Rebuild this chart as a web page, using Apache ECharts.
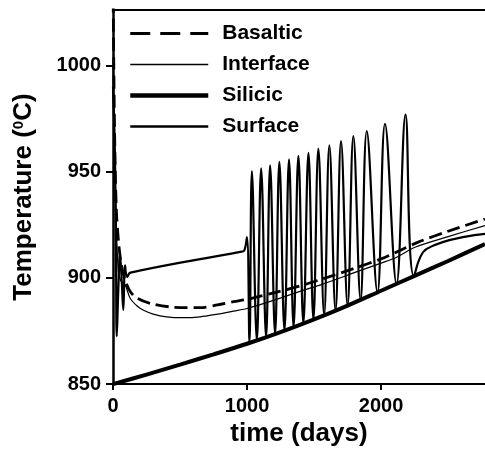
<!DOCTYPE html>
<html><head><meta charset="utf-8">
<script src="https://cdn.jsdelivr.net/npm/echarts@6/dist/echarts.min.js"></script>
<style>html,body{margin:0;padding:0;background:#fff}#c{width:485px;height:452px}</style>
</head><body><div id="c"></div>
<script>
const xTicks = [0, 1000, 2000];
const yTicks = [850, 900, 950, 1000];
const seriesNames = ['Basaltic', 'Interface', 'Silicic', 'Surface'];

const basaltic = [[0,1040],[6,1000],[14,960],[25,932],[40,918],[60,907],[90,899],[130,893.5],[180,890.5],[280,888],[420,886.4],[550,886],[650,886],[780,887.3],[900,888.8],[1020,890.2],[1200,893],[1400,896.3],[1570,899.7],[1800,904.5],[2000,909],[2116,912.2],[2277,916.9],[2500,922],[2775,927.8]];
const interfaceT = [[0,1000],[12,960],[25,925],[40,903],[60,898.5],[92,896.5],[129,890.3],[180,886.8],[228,884.8],[300,883],[400,881.7],[520,881.3],[650,881.7],[780,883],[900,884.4],[1000,885.6],[1200,889.5],[1400,893.8],[1560,897],[1800,902.5],[2000,907],[2116,909.8],[2253,914.5],[2500,919.5],[2775,924.7]];
const silicic = [[0,850],[250,854.5],[500,859.2],[750,864],[1000,869],[1250,874.5],[1500,880.5],[1750,887],[2000,894],[2250,901],[2500,908],[2775,916]];
const surface = [[0,990],[14,960],[22,915],[28,872.5],[40,895],[52,911],[64,900],[77,885],[90,906],[105,900.5],[130,902.5],[949,912.3],[978,912.8],[999,919.2],[1018,869.4],[1036,950.4],[1073,870.6],[1105,951.7],[1142,872.1],[1172,953.1],[1209,873.6],[1241,954.7],[1279,875.2],[1313,955.9],[1347,876.8],[1383,957.5],[1420,878.6],[1458,959.0],[1495,880.4],[1532,960.9],[1575,882.5],[1614,962.5],[1660,884.7],[1701,964.5],[1750,887.0],[1793,966.8],[1847,889.7],[1893,969.2],[1973,893.2],[2029,972.6],[2115,897.2],[2182,977.0],[2245,900.8],[2340,913.7],[2775,920.8]];

const FONT = "'Liberation Sans', Arial, Helvetica, sans-serif";
const chart = echarts.init(document.getElementById('c'), null, {renderer: 'canvas'});
const axisLabelBase = {color: '#000', fontFamily: FONT, fontWeight: 'bold', fontSize: 20};
chart.setOption({
  animation: false,
  backgroundColor: '#fff',
  grid: {left: 113, right: 0, top: 10, bottom: 66, containLabel: false},
  legend: {
    orient: 'vertical', left: 128, top: 23, padding: 0,
    itemWidth: 78, itemHeight: 14, itemGap: 10,
    selectedMode: false,
    textStyle: {color: '#000', fontFamily: FONT, fontWeight: 'bold', fontSize: 21, padding: [0, 0, 0, 9]},
    data: [
      {name: seriesNames[0], lineStyle: {width: 3, type: [20, 10], color: '#000'}, itemStyle: {opacity: 0}},
      {name: seriesNames[1], lineStyle: {width: 1.3, color: '#000'}, itemStyle: {opacity: 0}},
      {name: seriesNames[2], lineStyle: {width: 4.5, color: '#000'}, itemStyle: {opacity: 0}},
      {name: seriesNames[3], lineStyle: {width: 2.6, color: '#000'}, itemStyle: {opacity: 0}}
    ]
  },
  xAxis: [{
    type: 'value', min: 0, max: 2775, interval: 1000,
    name: 'time (days)', nameLocation: 'middle', nameGap: 30,
    nameTextStyle: {color: '#000', fontFamily: FONT, fontWeight: 'bold', fontSize: 26},
    axisLine: {show: true, lineStyle: {color: '#000', width: 2}},
    axisTick: {show: true, inside: false, length: 6, lineStyle: {color: '#000', width: 2}},
    axisLabel: Object.assign({}, axisLabelBase, {margin: 12, showMaxLabel: false,
      formatter: v => xTicks.includes(v) ? String(v) : ''}),
    splitLine: {show: false}
  }, {
    type: 'value', position: 'top', min: 0, max: 2775,
    axisLine: {show: true, lineStyle: {color: '#000', width: 2}},
    axisTick: {show: false}, axisLabel: {show: false}, splitLine: {show: false}
  }],
  yAxis: {
    type: 'value', min: 850, max: 1026.25, interval: 50,
    name: '{a|Temperature (}{b|0}{a|C)}', nameLocation: 'middle', nameGap: 76,
    nameTextStyle: {color: '#000', fontFamily: FONT, fontWeight: 'bold', fontSize: 26,
      rich: {
        a: {color: '#000', fontFamily: FONT, fontWeight: 'bold', fontSize: 26},
        b: {color: '#000', fontFamily: FONT, fontWeight: 'bold', fontSize: 15, verticalAlign: 'top'}
      }},
    axisLine: {show: true, lineStyle: {color: '#000', width: 2.5}},
    axisTick: {show: true, inside: false, length: 7, lineStyle: {color: '#000', width: 2}},
    axisLabel: Object.assign({}, axisLabelBase, {margin: 12, showMaxLabel: false,
      formatter: v => yTicks.includes(v) ? String(v) : ''}),
    splitLine: {show: false}
  },
  series: [
    {name: seriesNames[0], type: 'line', data: basaltic, symbol: 'none', smooth: 0.3, clip: true,
      lineStyle: {color: '#000', width: 2.8, type: [13, 6]}, z: 3},
    {name: seriesNames[1], type: 'line', data: interfaceT, symbol: 'none', smooth: 0.3, clip: true,
      lineStyle: {color: '#000', width: 1.2}, z: 3},
    {name: seriesNames[2], type: 'line', data: silicic, symbol: 'none', smooth: 0.3, clip: true,
      lineStyle: {color: '#000', width: 4}, z: 4},
    {name: seriesNames[3], type: 'line', data: surface, symbol: 'none', smooth: 0.4, clip: true,
      lineStyle: {color: '#000', width: 2.2}, z: 3}
  ]
});
</script>
</body></html>
